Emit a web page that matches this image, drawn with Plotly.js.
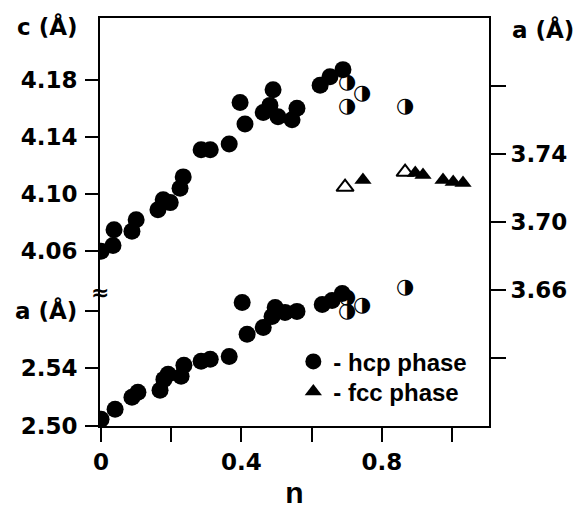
<!DOCTYPE html>
<html>
<head>
<meta charset="utf-8">
<script src="https://cdn.plot.ly/plotly-3.0.1.min.js"></script>
<style>html,body{margin:0;padding:0;background:#fff;}</style>
</head>
<body>
<div id="chart" style="width:576px;height:509px;"></div>
<script>
// hcp phase, lattice parameter c (left upper scale)
const n_c_hcp = [0.000, 0.034, 0.037, 0.088, 0.100, 0.162, 0.177, 0.197, 0.225, 0.234, 0.285, 0.311, 0.365, 0.396, 0.410, 0.462, 0.481, 0.490, 0.504, 0.544, 0.558, 0.624, 0.652, 0.689];
const c_hcp   = [4.060, 4.064, 4.075, 4.074, 4.082, 4.089, 4.096, 4.094, 4.104, 4.112, 4.131, 4.131, 4.135, 4.164, 4.149, 4.157, 4.162, 4.173, 4.154, 4.152, 4.160, 4.176, 4.182, 4.187];
// hcp in two-phase samples (half-filled symbols), c
const n_c_mixed = [0.701, 0.744, 0.701, 0.866];
const c_mixed   = [4.178, 4.170, 4.161, 4.161];
// hcp phase, lattice parameter a (left lower scale)
const n_a_hcp = [0.000, 0.040, 0.088, 0.105, 0.168, 0.179, 0.191, 0.228, 0.236, 0.285, 0.311, 0.365, 0.402, 0.416, 0.462, 0.487, 0.496, 0.524, 0.558, 0.630, 0.658, 0.687];
const a_hcp   = [2.5045, 2.5115, 2.5198, 2.5233, 2.5247, 2.5323, 2.5358, 2.5344, 2.5421, 2.5449, 2.5463, 2.5483, 2.5859, 2.5637, 2.5685, 2.5762, 2.5824, 2.5790, 2.5797, 2.5845, 2.5873, 2.5922];
// hcp in two-phase samples, a
const n_a_mixed = [0.701, 0.701, 0.744, 0.866];
const a_mixed   = [2.5894, 2.5797, 2.5838, 2.5963];
// fcc phase, lattice parameter a (right scale)
const n_fcc_open = [0.695, 0.866];
const a_fcc_open = [3.7205, 3.7293];
const n_fcc = [0.746, 0.895, 0.917, 0.974, 1.003, 1.031];
const a_fcc = [3.7246, 3.7287, 3.7276, 3.7246, 3.7234, 3.7229];

// tick labels
const xTickVals = [0, 0.2, 0.4, 0.6, 0.8, 1.0];
const xTickText = ['0', '', '0.4', '', '0.8', ''];
const cTickVals = [4.06, 4.10, 4.14, 4.18];
const cTickText = ['4.06', '4.10', '4.14', '4.18'];
const aTickVals = [2.50, 2.54, 2.58];
const aTickText = ['2.50', '2.54', 'a (Å)'];
const fTickVals = [3.62, 3.66, 3.70, 3.74, 3.78];
const fTickText = ['', '3.66', '3.70', '3.74', ''];

const TF = {family: 'DejaVu Sans', size: 23, color: '#000', weight: 'bold'};
const LF = {family: 'Liberation Sans', size: 24, color: '#000', weight: 'bold'};

const traces = [
  {x: n_c_hcp, y: c_hcp, yaxis: 'y', type: 'scatter', mode: 'markers', name: '- hcp phase',
   showlegend: true, legend: 'legend', marker: {symbol: 'circle', size: 17, color: '#000', line: {width: 0}}},
  {x: n_a_hcp, y: a_hcp, yaxis: 'y3', type: 'scatter', mode: 'markers', showlegend: false,
   marker: {symbol: 'circle', size: 17, color: '#000', line: {width: 0}}},
  {x: n_fcc_open, y: a_fcc_open, yaxis: 'y2', type: 'scatter', mode: 'markers', showlegend: false,
   marker: {symbol: 'triangle-up', size: 15, color: '#fff', line: {width: 2, color: '#000'}}},
  {x: n_fcc, y: a_fcc, yaxis: 'y2', type: 'scatter', mode: 'markers', name: '- fcc phase',
   showlegend: true, legend: 'legend2', marker: {symbol: 'triangle-up', size: 15, color: '#000', line: {width: 0}}},
  {x: n_c_mixed, y: c_mixed, yaxis: 'y', type: 'scatter', mode: 'text', showlegend: false,
   text: n_c_mixed.map(() => '◑'), textposition: 'middle center',
   textfont: {family: 'DejaVu Sans', size: 21, color: '#000'}},
  {x: n_a_mixed, y: a_mixed, yaxis: 'y3', type: 'scatter', mode: 'text', showlegend: false,
   text: n_a_mixed.map(() => '◑'), textposition: 'middle center',
   textfont: {family: 'DejaVu Sans', size: 21, color: '#000'}}
];

const layout = {
  width: 576, height: 509,
  margin: {l: 100, r: 87, t: 18, b: 83, pad: 0},
  paper_bgcolor: '#fff', plot_bgcolor: '#fff',
  showlegend: true,
  legend: {x: 0.497, y: 0.2124, xanchor: 'left', yanchor: 'top', font: LF,
           bgcolor: 'rgba(0,0,0,0)', borderwidth: 0, itemsizing: 'trace'},
  legend2: {x: 0.497, y: 0.1389, xanchor: 'left', yanchor: 'top', font: LF,
           bgcolor: 'rgba(0,0,0,0)', borderwidth: 0, itemsizing: 'trace'},
  xaxis: {range: [-0.003, 1.105], tickvals: xTickVals, ticktext: xTickText,
          ticks: 'outside', ticklen: 14, tickwidth: 2, tickcolor: '#000',
          showline: true, linewidth: 2, linecolor: '#000', mirror: true,
          showgrid: false, zeroline: false, tickfont: TF,
          title: {text: 'n', font: {family: 'Liberation Sans', size: 30, color: '#000', weight: 'bold'}, standoff: 12}},
  yaxis: {range: [3.9378, 4.2231], tickvals: cTickVals, ticktext: cTickText,
          ticks: 'outside', ticklen: 13, tickwidth: 2, tickcolor: '#000', ticklabelstandoff: 3,
          showline: true, linewidth: 2, linecolor: '#000',
          showgrid: false, zeroline: false, tickfont: TF},
  yaxis3: {overlaying: 'y', side: 'left', range: [2.4998, 2.7842], tickvals: aTickVals, ticktext: aTickText,
           ticks: 'outside', ticklen: 13, tickwidth: 2, tickcolor: '#000', ticklabelstandoff: 3,
           showline: true, linewidth: 2, linecolor: '#000',
           showgrid: false, zeroline: false, tickfont: TF},
  yaxis2: {overlaying: 'y', side: 'right', range: [3.5797, 3.8201], tickvals: fTickVals, ticktext: fTickText,
           ticks: 'outside', ticklen: 15, tickwidth: 2, tickcolor: '#000',
           showline: true, linewidth: 2, linecolor: '#000',
           showgrid: false, zeroline: false, tickfont: TF},
  annotations: [
    {xref: 'paper', yref: 'paper', x: -0.055, y: 0.978, xanchor: 'right', yanchor: 'middle',
     text: 'c (Å)', showarrow: false, font: {family: 'DejaVu Sans', size: 23, color: '#000', weight: 'bold'}},
    {xref: 'paper', yref: 'paper', x: 1.054, y: 0.971, xanchor: 'left', yanchor: 'middle',
     text: 'a (Å)', showarrow: false, font: {family: 'DejaVu Sans', size: 23, color: '#000', weight: 'bold'}},
    {xref: 'paper', yref: 'paper', x: 0, y: 0.326, xanchor: 'center', yanchor: 'middle',
     text: '≈', showarrow: false, font: {family: 'DejaVu Sans', size: 22, color: '#000', weight: 'bold'}}
  ]
};

Plotly.newPlot('chart', traces, layout, {displayModeBar: false, staticPlot: true});
</script>
</body>
</html>
